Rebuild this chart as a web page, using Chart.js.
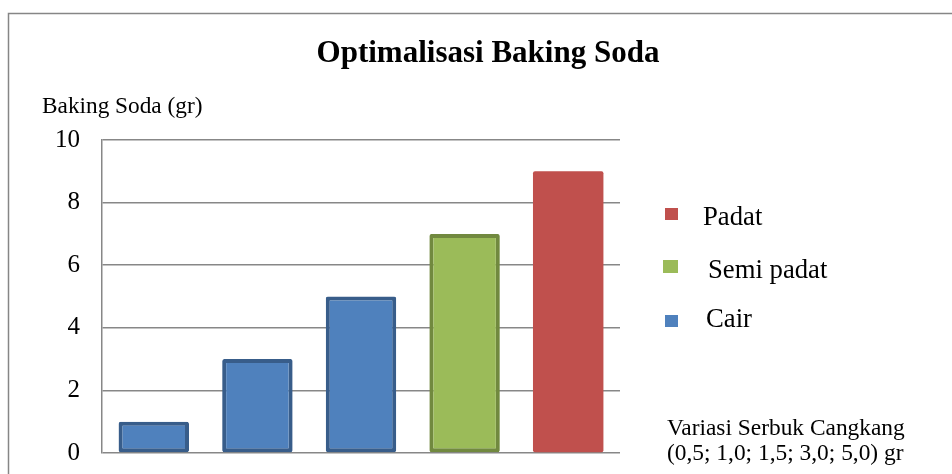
<!DOCTYPE html>
<html>
<head>
<meta charset="utf-8">
<script src="https://cdn.jsdelivr.net/npm/chart.js@4"></script>
<style>
  html, body { margin: 0; padding: 0; background: #ffffff; }
  #wrap { width: 952px; height: 474px; position: relative; }
</style>
</head>
<body>
<div id="wrap"><canvas id="c" width="952" height="474"></canvas></div>
<script>
// ---- data ----
const categories = ['0,5', '1,0', '1,5', '3,0', '5,0'];
const values = [1, 3, 5, 7, 9];
const barGroups = ['Cair', 'Cair', 'Cair', 'Semi padat', 'Padat'];
const yTicks = [0, 2, 4, 6, 8, 10];
const legendLabels = ['Padat', 'Semi padat', 'Cair'];
const titleText = 'Optimalisasi Baking Soda';
const yTitleText = 'Baking Soda (gr)';
const noteLines = ['Variasi Serbuk Cangkang', '(0,5; 1,0; 1,5; 3,0; 5,0) gr'];

// ---- styles ----
const groupFill = { 'Cair': '#4F81BD', 'Semi padat': '#9BBB59', 'Padat': '#C0504D' };
const groupBorder = { 'Cair': '#385D8A', 'Semi padat': '#71893F', 'Padat': '#C0504D' };
const groupBorderW = { 'Cair': 4, 'Semi padat': 4, 'Padat': 0 };
const SERIF = '"Liberation Serif", "Times New Roman", serif';

const decor = {
  id: 'decor',
  afterDraw(chart) {
    const ctx = chart.ctx;
    ctx.save();
    // outer frame
    ctx.strokeStyle = '#868686';
    ctx.lineWidth = 1.5;
    ctx.strokeRect(8.5, 13.5, 960, 480);
    ctx.fillStyle = '#000';
    // title
    ctx.font = 'bold 31px ' + SERIF;
    ctx.textAlign = 'center';
    ctx.textBaseline = 'alphabetic';
    ctx.fillText(titleText, 488, 62);
    // y title
    ctx.font = '23.3px ' + SERIF;
    ctx.textAlign = 'left';
    ctx.fillText(yTitleText, 42, 113);
    // legend
    const legendY = [225, 278, 327];
    const textX = [703, 708, 706];
    const boxes = [[665, 208, 13, 12], [663, 260, 15, 13], [665, 315, 13, 12]];
    ctx.font = '26.7px ' + SERIF;
    legendLabels.forEach((lab, i) => {
      const b = boxes[i];
      ctx.fillStyle = groupFill[lab];
      ctx.fillRect(b[0], b[1], b[2], b[3]);
      ctx.fillStyle = '#000';
      ctx.fillText(lab, textX[i], legendY[i]);
    });
    // note
    ctx.font = '23.4px ' + SERIF;
    ctx.fillText(noteLines[0], 667, 435);
    ctx.fillText(noteLines[1], 667, 460);
    ctx.restore();
  }
};

new Chart(document.getElementById('c'), {
  type: 'bar',
  data: {
    labels: categories,
    datasets: [{
      label: 'Baking Soda',
      data: values,
      backgroundColor: barGroups.map(g => groupFill[g]),
      borderColor: barGroups.map(g => groupBorder[g]),
      borderWidth: barGroups.map(g => groupBorderW[g]),
      borderRadius: 2,
      borderSkipped: false,
      categoryPercentage: 1,
      barPercentage: 0.68
    }]
  },
  options: {
    responsive: false,
    animation: false,
    devicePixelRatio: 1,
    layout: { padding: { top: 140, bottom: 21, left: 0, right: 332 } },
    plugins: { legend: { display: false }, title: { display: false }, tooltip: { enabled: false } },
    scales: {
      x: { display: false },
      y: {
        min: 0, max: 10,
        afterBuildTicks(scale) { scale.ticks = yTicks.map(v => ({ value: v })); },
        afterFit(scale) { scale.width = 102; scale.paddingTop = 0; scale.paddingBottom = 0; },
        grid: { color: '#878787', lineWidth: 1.5, drawTicks: false },
        border: { display: true, color: '#878787', width: 1.5 },
        ticks: { padding: 22, color: '#000', font: { family: SERIF, size: 25 } }
      }
    }
  },
  plugins: [decor]
});
</script>
</body>
</html>
